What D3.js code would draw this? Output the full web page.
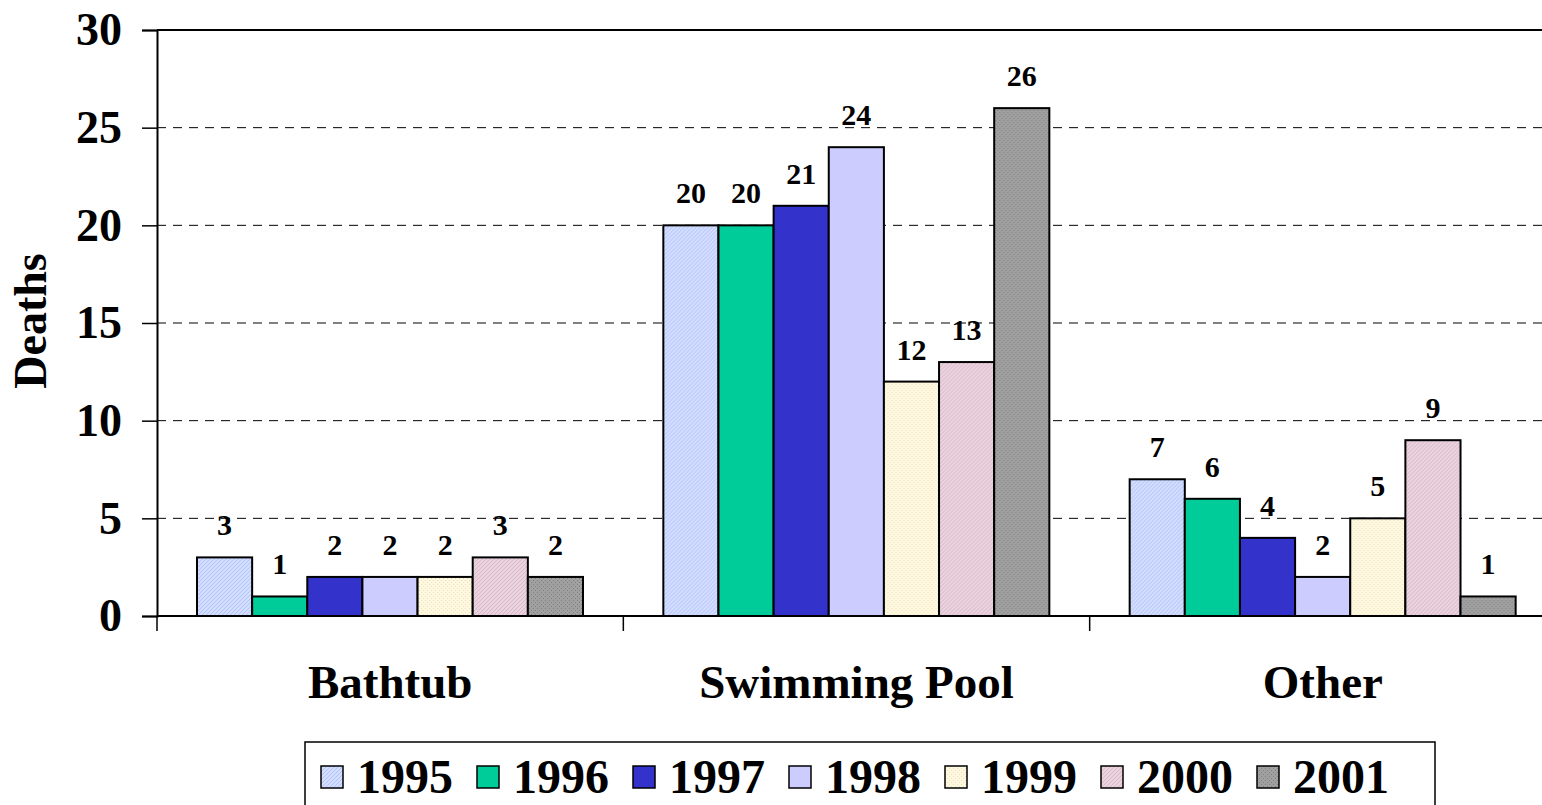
<!DOCTYPE html>
<html>
<head>
<meta charset="utf-8">
<script src="https://cdn.jsdelivr.net/npm/d3@7"></script>
<style>
  body { margin: 0; background: #fff; }
</style>
</head>
<body>
<div class="content"></div>
<script>
// data
var categories = ["Bathtub", "Swimming Pool", "Other"];
var years = ["1995", "1996", "1997", "1998", "1999", "2000", "2001"];
var bathtub = [3, 1, 2, 2, 2, 3, 2];
var swimmingPool = [20, 20, 21, 24, 12, 13, 26];
var other = [7, 6, 4, 2, 5, 9, 1];
var yTicks = [0, 5, 10, 15, 20, 25, 30];

var seriesByCat = {"Bathtub": bathtub, "Swimming Pool": swimmingPool, "Other": other};
var FONT = "'Liberation Serif', 'Times New Roman', serif";

var svg = d3.select(".content")
    .append("svg")
    .attr("width", 1542)
    .attr("height", 805)
    .style("font-family", FONT)
    .style("font-weight", "bold");

// fills: some of the excel fills have a fine texture
var defs = svg.append("defs");
function hatch(id, bg, fg, kind) {
    var p = defs.append("pattern")
        .attr("id", id)
        .attr("patternUnits", "userSpaceOnUse")
        .attr("width", 4)
        .attr("height", 4);
    p.append("rect").attr("width", 4).attr("height", 4).attr("fill", bg);
    if (kind === "diag") {
        p.append("path").attr("d", "M0,4 L4,0 M-1,1 L1,-1 M3,5 L5,3")
            .attr("stroke", fg).attr("stroke-width", 0.8);
    } else {
        p.append("rect").attr("x", 0).attr("y", 0).attr("width", 1).attr("height", 1).attr("fill", fg);
        p.append("rect").attr("x", 2).attr("y", 2).attr("width", 1).attr("height", 1).attr("fill", fg);
    }
}
hatch("p1995", "#d3ddff", "#a9bdf2", "diag");
hatch("p1999", "#fff8e0", "#f0e2b8", "dots");
hatch("p2000", "#ead3de", "#d3b3c3", "diag");
hatch("p2001", "#a0a0a0", "#808080", "dots");

var fills = ["url(#p1995)", "#00cc99", "#3333cc", "#ccccff", "url(#p1999)", "url(#p2000)", "url(#p2001)"];
var color = d3.scaleOrdinal().domain(years).range(fills);

// scales
var x0 = d3.scaleBand().domain(categories).range([157, 1556]).padding(0);
var x1 = d3.scaleBand().domain(years).range([40, 426]).padding(0);
var y = d3.scaleLinear().domain([0, 30]).range([616, 30]);

function boldText(sel, size) {
    return sel.style("font-family", FONT)
        .style("font-weight", "bold")
        .style("font-size", size + "px")
        .attr("fill", "#000");
}

// gridlines
svg.append("g")
    .selectAll("line")
    .data(yTicks.filter(function(d){ return d > 0 && d < 30; }))
    .enter()
    .append("line")
    .attr("x1", 157).attr("x2", 1542)
    .attr("y1", function(d){ return y(d); })
    .attr("y2", function(d){ return y(d); })
    .attr("stroke", "#000")
    .attr("stroke-width", 1)
    .attr("stroke-dasharray", "9,7");

// top border
svg.append("line")
    .attr("x1", 157).attr("x2", 1542)
    .attr("y1", y(30)).attr("y2", y(30))
    .attr("stroke", "#000").attr("stroke-width", 2);

// Y axis
var yAxis = svg.append("g")
    .attr("transform", "translate(157,0)")
    .call(d3.axisLeft(y).tickValues(yTicks).tickSize(15).tickPadding(20));
yAxis.select(".domain").attr("stroke-width", 2);
yAxis.selectAll(".tick line").attr("stroke-width", 1.5);
boldText(yAxis.selectAll(".tick text"), 46);

// bars
var groups = svg.append("g")
    .selectAll("g")
    .data(categories)
    .enter()
    .append("g")
    .attr("transform", function(d){ return "translate(" + x0(d) + ",0)"; });

groups.selectAll("rect")
    .data(function(c){ return years.map(function(yr, i){ return {year: yr, value: seriesByCat[c][i]}; }); })
    .enter()
    .append("rect")
    .attr("x", function(d){ return x1(d.year); })
    .attr("y", function(d){ return y(d.value); })
    .attr("width", x1.bandwidth())
    .attr("height", function(d){ return y(0) - y(d.value); })
    .attr("fill", function(d){ return color(d.year); })
    .attr("stroke", "#000")
    .attr("stroke-width", 2);

boldText(groups.selectAll("text")
    .data(function(c){ return years.map(function(yr, i){ return {year: yr, value: seriesByCat[c][i]}; }); })
    .enter()
    .append("text")
    .attr("x", function(d){ return x1(d.year) + x1.bandwidth() / 2; })
    .attr("y", function(d){ return y(d.value) - 22; })
    .attr("text-anchor", "middle")
    .text(function(d){ return d.value; }), 30);

// X axis line + boundary ticks
svg.append("line")
    .attr("x1", 157).attr("x2", 1542)
    .attr("y1", y(0)).attr("y2", y(0))
    .attr("stroke", "#000").attr("stroke-width", 2);

svg.append("g")
    .selectAll("line")
    .data(categories)
    .enter()
    .append("line")
    .attr("x1", function(d){ return x0(d); })
    .attr("x2", function(d){ return x0(d); })
    .attr("y1", y(0)).attr("y2", y(0) + 15)
    .attr("stroke", "#000").attr("stroke-width", 1.5);

boldText(svg.append("g")
    .selectAll("text")
    .data(categories)
    .enter()
    .append("text")
    .attr("x", function(d){ return x0(d) + x0.bandwidth() / 2; })
    .attr("y", 698)
    .attr("text-anchor", "middle")
    .text(function(d){ return d; }), 47);

// Y title
boldText(svg.append("text")
    .attr("transform", "translate(46,321) rotate(-90)")
    .attr("text-anchor", "middle")
    .text("Deaths"), 46);

// legend
var legend = svg.append("g");
legend.append("rect")
    .attr("x", 305).attr("y", 742)
    .attr("width", 1130).attr("height", 80)
    .attr("fill", "#fff")
    .attr("stroke", "#000")
    .attr("stroke-width", 1.5);

var item = legend.selectAll("g")
    .data(years)
    .enter()
    .append("g")
    .attr("transform", function(d, i){ return "translate(" + (321 + i * 156) + ",0)"; });

item.append("rect")
    .attr("x", 0).attr("y", 766)
    .attr("width", 22).attr("height", 22)
    .attr("fill", function(d){ return color(d); })
    .attr("stroke", "#000")
    .attr("stroke-width", 1.5);

boldText(item.append("text")
    .attr("x", 36).attr("y", 793)
    .text(function(d){ return d; }), 48);
</script>
</body>
</html>
